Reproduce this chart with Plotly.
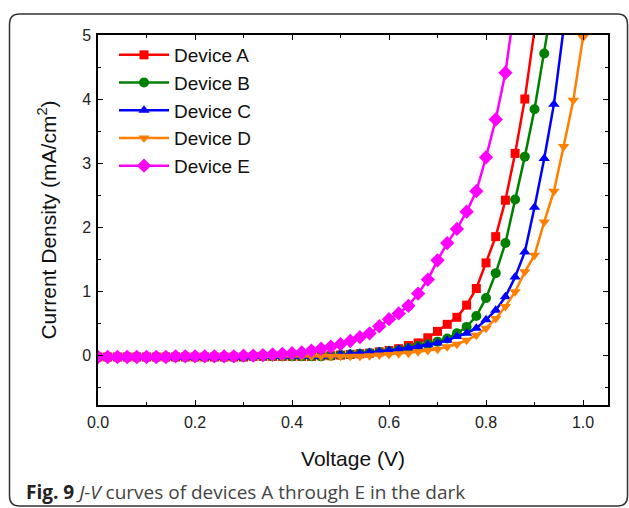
import plotly.graph_objects as go

# ---------------- data ----------------
voltage = [round(0.02 * i, 2) for i in range(51)]

device_a = [-0.03, -0.03, -0.03, -0.03, -0.03, -0.03, -0.03, -0.03, -0.03, -0.03,
            -0.03, -0.03, -0.03, -0.03, -0.03, -0.03, -0.02, -0.02, -0.02, -0.02,
            -0.02, -0.02, -0.02, -0.01, -0.01, 0.00, 0.01, 0.02, 0.03, 0.05,
            0.07, 0.10, 0.15, 0.19, 0.27, 0.37, 0.48, 0.59, 0.78, 1.04,
            1.44, 1.85, 2.42, 3.15, 4.00, 5.08]
device_b = [-0.03, -0.03, -0.03, -0.03, -0.03, -0.03, -0.03, -0.03, -0.03, -0.03,
            -0.03, -0.03, -0.03, -0.03, -0.03, -0.03, -0.02, -0.02, -0.02, -0.02,
            -0.02, -0.02, -0.02, -0.02, -0.01, 0.00, 0.01, 0.02, 0.03, 0.045,
            0.06, 0.08, 0.11, 0.14, 0.17, 0.21, 0.26, 0.34, 0.44, 0.61,
            0.89, 1.28, 1.75, 2.43, 3.10, 3.84, 4.71, 5.65]
device_c = [-0.03, -0.03, -0.03, -0.03, -0.03, -0.03, -0.03, -0.03, -0.03, -0.03,
            -0.03, -0.03, -0.03, -0.03, -0.03, -0.03, -0.02, -0.02, -0.02, -0.02,
            -0.02, -0.02, -0.02, -0.02, -0.01, 0.01, 0.02, 0.03, 0.04, 0.05,
            0.07, 0.09, 0.11, 0.13, 0.16, 0.19, 0.23, 0.29, 0.34, 0.42,
            0.55, 0.70, 0.91, 1.22, 1.61, 2.31, 3.07, 3.92, 5.10]
device_d = [-0.03, -0.03, -0.03, -0.03, -0.03, -0.03, -0.03, -0.03, -0.03, -0.03,
            -0.03, -0.03, -0.03, -0.03, -0.03, -0.03, -0.03, -0.03, -0.03, -0.03,
            -0.02, -0.02, -0.02, -0.02, -0.02, -0.02, -0.02, -0.02, -0.01, 0.00,
            0.01, 0.02, 0.03, 0.05, 0.07, 0.09, 0.13, 0.17, 0.23, 0.31,
            0.42, 0.57, 0.76, 0.99, 1.30, 1.56, 2.08, 2.56, 3.26, 3.98, 4.96]
device_e = [-0.03, -0.03, -0.03, -0.03, -0.03, -0.03, -0.03, -0.03, -0.02, -0.02,
            -0.02, -0.02, -0.02, -0.02, -0.02, -0.01, -0.01, 0.00, 0.01, 0.02,
            0.03, 0.04, 0.07, 0.10, 0.13, 0.17, 0.22, 0.28, 0.34, 0.45,
            0.56, 0.65, 0.77, 0.96, 1.18, 1.48, 1.75, 1.97, 2.24, 2.56,
            3.09, 3.68, 4.41, 5.50]

names = ["Device A", "Device B", "Device C", "Device D", "Device E"]
series = [device_a, device_b, device_c, device_d, device_e]
colors = ["#FF0000", "#008000", "#0000FF", "#FF8000", "#FF00FF"]
symbols = ["square", "circle", "triangle-up", "triangle-down", "diamond"]
sizes = [9, 10, 10, 10, 11]

x_ticks = [0.0, 0.2, 0.4, 0.6, 0.8, 1.0]
y_ticks = [0, 1, 2, 3, 4, 5]

# ---------------- figure ----------------
W, H = 629, 508
L, R, T, B = 98, 21, 35, 103
PW, PH = W - L - R, H - T - B
SANS = "Liberation Sans"


def px(x):
    return (x - L) / PW


def py(y):
    return (H - B - y) / PH


fig = go.Figure()
for name, ys, c, s, sz in zip(names, series, colors, symbols, sizes):
    fig.add_trace(go.Scatter(
        x=voltage[:len(ys)], y=ys, name=name, mode="lines+markers",
        line=dict(color=c, width=2.5),
        marker=dict(symbol=s, size=sz, color=c, line=dict(width=0)),
    ))

axis_common = dict(
    showline=True, linecolor="black", linewidth=1.5, mirror="allticks",
    ticks="inside", ticklen=5, tickwidth=1.2, tickcolor="black",
    showgrid=False, zeroline=False, ticklabelstandoff=2,
    tickfont=dict(family=SANS, size=16, color="#222"),
)

fig.update_xaxes(
    range=[0, 1.0515], tickvals=x_ticks, ticktext=[f"{v:.1f}" for v in x_ticks],
    minor=dict(ticks="inside", ticklen=3, dtick=0.1, tick0=0, tickcolor="black", showgrid=False),
    title=dict(text="Voltage (V)", font=dict(family=SANS, size=21, color="#111"), standoff=21),
    **axis_common,
)
fig.update_yaxes(
    range=[-0.78, 5], tickvals=y_ticks, ticktext=[str(v) for v in y_ticks],
    minor=dict(ticks="inside", ticklen=3, dtick=0.5, tick0=0, tickcolor="black", showgrid=False),
    title=dict(text="Current Density (mA/cm<sup>2</sup>)", font=dict(family=SANS, size=21, color="#111"), standoff=20),
    **axis_common,
)

r = 10
x0, x1 = px(9.5), px(627.5)
y0, y1 = py(14), py(506)
rx, ry = r / PW, r / PH
path = (f"M {x0} {y1 + ry} L {x0} {y0 - ry} Q {x0} {y0} {x0 + rx} {y0} "
        f"L {x1 - rx} {y0} Q {x1} {y0} {x1} {y0 - ry} L {x1} {y1 + ry} "
        f"Q {x1} {y1} {x1 - rx} {y1} L {x0 + rx} {y1} Q {x0} {y1} {x0} {y1 + ry} Z")
fig.add_shape(type="path", path=path, xref="paper", yref="paper",
              line=dict(color="#333", width=1.5), layer="below")

fig.add_annotation(
    xref="paper", yref="paper", x=px(24), y=py(492), xanchor="left", yanchor="middle",
    showarrow=False,
    text="<b><span style='color:#222'>Fig. 9</span></b> <i>J-V</i> curves of devices A through E in the dark",
    font=dict(family="Open Sans", size=19, color="#444"),
)

fig.update_layout(
    width=W, height=H, margin=dict(l=L, r=R, t=T, b=B),
    paper_bgcolor="white", plot_bgcolor="white",
    legend=dict(x=px(114), y=py(36), xanchor="left", yanchor="top",
                bgcolor="rgba(0,0,0,0)", itemwidth=50, tracegroupgap=0,
                font=dict(family=SANS, size=19, color="#111")),
    showlegend=True,
)

fig.write_html("out.html")
